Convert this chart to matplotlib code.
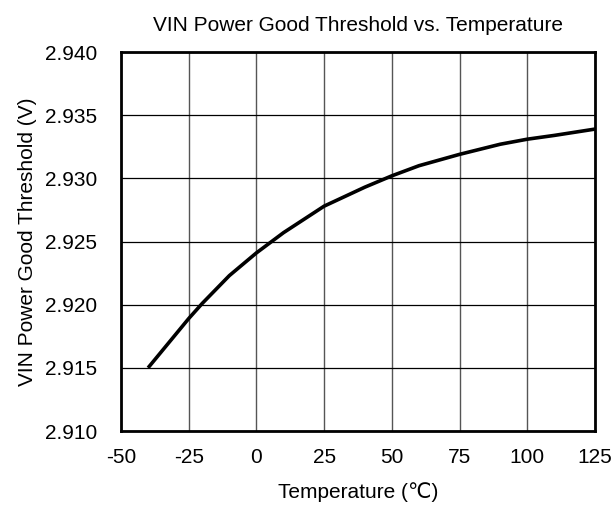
import numpy as np
import matplotlib.pyplot as plt

plt.rcParams['font.family'] = ['Liberation Sans', 'DejaVu Sans']
plt.rcParams['axes.unicode_minus'] = False

# values
temp = [-40, -30, -25, -20, -10, 0, 10, 25, 40, 50, 60, 75, 90, 100, 110, 125]
vpg = [2.9150, 2.9176, 2.9189, 2.9201, 2.9223, 2.9241, 2.9257, 2.9278, 2.9293,
       2.9302, 2.9310, 2.9319, 2.9327, 2.9331, 2.9334, 2.9339]

xticks = [-50, -25, 0, 25, 50, 75, 100, 125]
yticks = [2.910, 2.915, 2.920, 2.925, 2.930, 2.935, 2.940]

fig = plt.figure(figsize=(6.16, 5.07), dpi=100)
ax = fig.add_axes([0.1964, 0.1499, 0.7696, 0.7475])

ax.plot(temp, vpg, color='black', linewidth=2.6,
        solid_capstyle='butt', solid_joinstyle='round')

ax.set_xlim(-50, 125)
ax.set_ylim(2.910, 2.940)
ax.set_xticks(xticks)
ax.set_yticks(yticks)
ax.set_yticklabels(['%.3f' % v for v in yticks])
ax.tick_params(labelsize=15, length=0)
ax.tick_params(axis='x', pad=12)
ax.tick_params(axis='y', pad=17)
ax.grid(True, color='black', linewidth=0.9)
ax.xaxis.grid(True, color='#555555', linewidth=1.0)
for s in ax.spines.values():
    s.set_linewidth(2)

ax.set_title('VIN Power Good Threshold vs. Temperature', fontsize=15, pad=15)
ax.set_xlabel('Temperature (\u2103)', fontsize=15, labelpad=11)
ax.set_ylabel('VIN Power Good Threshold (V)', fontsize=15, labelpad=6)

fig.savefig('out.png', dpi=100)
